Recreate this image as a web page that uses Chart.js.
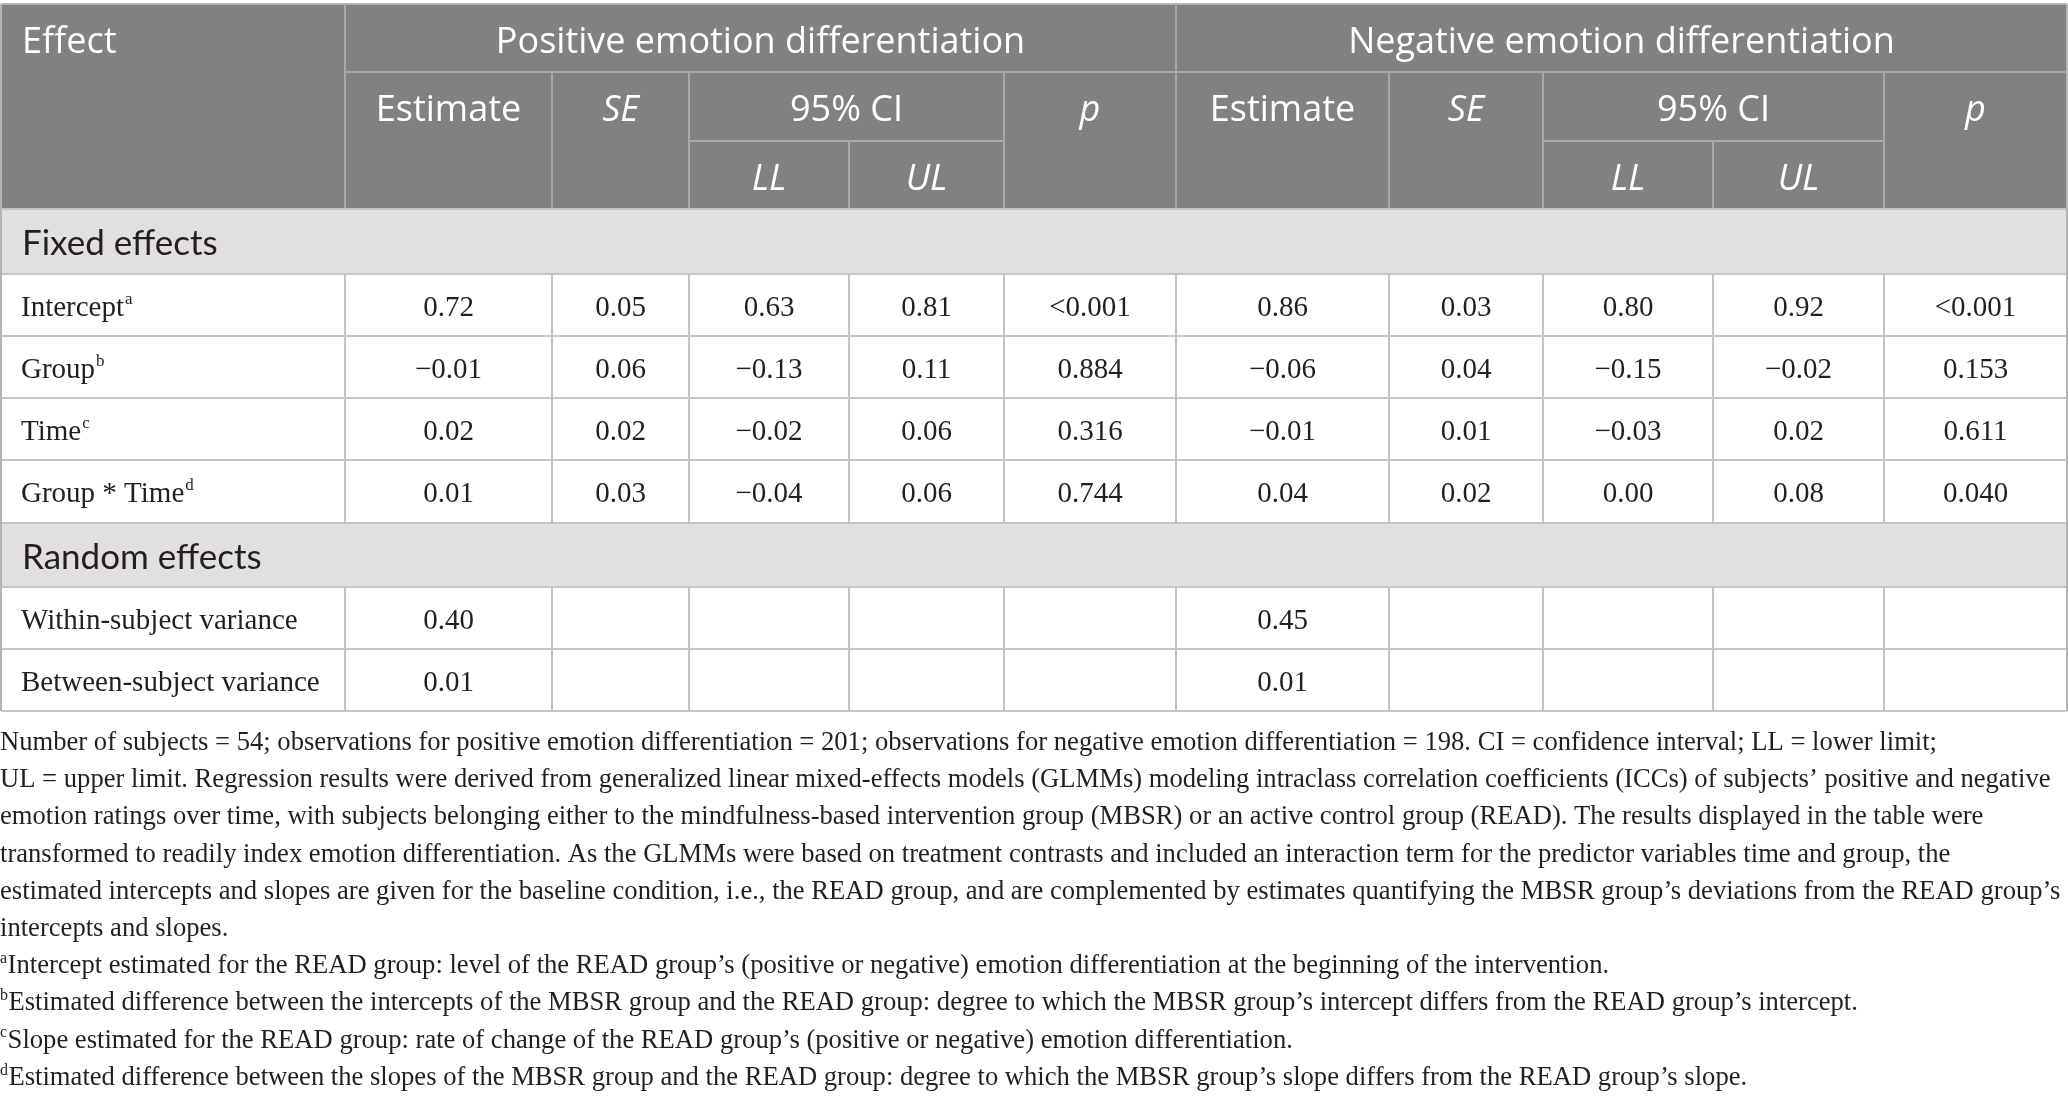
<!DOCTYPE html>
<html>
<head>
<meta charset="utf-8">
<script src="https://cdn.jsdelivr.net/npm/chart.js@4.4.1/dist/chart.umd.min.js"></script>
<style>
  html, body { margin: 0; padding: 0; background: #ffffff; }
  #wrap { width: 2068px; height: 1100px; position: relative; }
  canvas { display: block; }
</style>
</head>
<body>
<div id="wrap"><canvas id="c" width="2068" height="1100" style="width:2068px;height:1100px"></canvas></div>
<script>
// ---------------- DATA ----------------
const groupHeaders = ["Positive emotion differentiation", "Negative emotion differentiation"];
const subHeaders = ["Estimate", "SE", "95% CI", "p"];
const ciHeaders = ["LL", "UL"];
const sectionLabels = ["Fixed effects", "Random effects"];

const fixedEffects = ["Intercept", "Group", "Time", "Group * Time"];
const fixedSup = ["a", "b", "c", "d"];

const posEstimate = ["0.72", "\u22120.01", "0.02", "0.01"];
const posSE       = ["0.05", "0.06", "0.02", "0.03"];
const posLL       = ["0.63", "\u22120.13", "\u22120.02", "\u22120.04"];
const posUL       = ["0.81", "0.11", "0.06", "0.06"];
const posP        = ["<0.001", "0.884", "0.316", "0.744"];

const negEstimate = ["0.86", "\u22120.06", "\u22120.01", "0.04"];
const negSE       = ["0.03", "0.04", "0.01", "0.02"];
const negLL       = ["0.80", "\u22120.15", "\u22120.03", "0.00"];
const negUL       = ["0.92", "\u22120.02", "0.02", "0.08"];
const negP        = ["<0.001", "0.153", "0.611", "0.040"];

const randomEffects = ["Within-subject variance", "Between-subject variance"];
const posVariance = ["0.40", "0.01"];
const negVariance = ["0.45", "0.01"];

const noteLines = [
  ["", "Number of subjects = 54; observations for positive emotion differentiation = 201; observations for negative emotion differentiation = 198. CI = confidence interval; LL = lower limit;"],
  ["", "UL = upper limit. Regression results were derived from generalized linear mixed-effects models (GLMMs) modeling intraclass correlation coefficients (ICCs) of subjects\u2019 positive and negative"],
  ["", "emotion ratings over time, with subjects belonging either to the mindfulness-based intervention group (MBSR) or an active control group (READ). The results displayed in the table were"],
  ["", "transformed to readily index emotion differentiation. As the GLMMs were based on treatment contrasts and included an interaction term for the predictor variables time and group, the"],
  ["", "estimated intercepts and slopes are given for the baseline condition, i.e., the READ group, and are complemented by estimates quantifying the MBSR group\u2019s deviations from the READ group\u2019s"],
  ["", "intercepts and slopes."],
  ["a", "Intercept estimated for the READ group: level of the READ group\u2019s (positive or negative) emotion differentiation at the beginning of the intervention."],
  ["b", "Estimated difference between the intercepts of the MBSR group and the READ group: degree to which the MBSR group\u2019s intercept differs from the READ group\u2019s intercept."],
  ["c", "Slope estimated for the READ group: rate of change of the READ group\u2019s (positive or negative) emotion differentiation."],
  ["d", "Estimated difference between the slopes of the MBSR group and the READ group: degree to which the MBSR group\u2019s slope differs from the READ group\u2019s slope."]
];

// ---------------- LAYOUT (scale units) ----------------
const COLS = [1, 345, 552, 689, 849, 1004, 1176, 1389, 1543, 1713, 1884, 2067];
const ROWS = [4, 72, 141, 209, 274, 336, 398, 460, 523, 587, 649, 711];
const NOTE_TOP = 750, NOTE_STEP = 37.2;

const HEAD_BG = "#808180", SECTION_BG = "#e1dfe0";
const HEAD_LINE = "#a7a8a7", BODY_LINE = "#c4c4c4", INK = "#231f20";
const SANS = "Lato, 'Open Sans', sans-serif";
const HSANS = "'Open Sans', Lato, sans-serif";
const SERIF = "'Liberation Serif', 'DejaVu Serif', serif";

const tablePlugin = {
  id: "tablePlugin",
  afterDraw(chart) {
    const ctx = chart.ctx;
    const X = v => chart.scales.x.getPixelForValue(v);
    const Y = v => chart.scales.y.getPixelForValue(v);
    const rect = (x0, y0, x1, y1, c) => { ctx.fillStyle = c; ctx.fillRect(X(x0), Y(y0), X(x1) - X(x0), Y(y1) - Y(y0)); };
    const hline = (x0, x1, y, c) => { ctx.strokeStyle = c; ctx.lineWidth = 2; ctx.beginPath(); ctx.moveTo(X(x0), Y(y)); ctx.lineTo(X(x1), Y(y)); ctx.stroke(); };
    const vline = (x, y0, y1, c) => { ctx.strokeStyle = c; ctx.lineWidth = 2; ctx.beginPath(); ctx.moveTo(X(x), Y(y0)); ctx.lineTo(X(x), Y(y1)); ctx.stroke(); };
    const text = (s, x, y, font, color, align) => { ctx.font = font; ctx.fillStyle = color; ctx.textAlign = align; ctx.textBaseline = "alphabetic"; ctx.fillText(s, X(x), Y(y)); };
    const mid = (a, b) => (COLS[a] + COLS[b]) / 2;

    ctx.save();
    // backgrounds
    rect(COLS[0], ROWS[0], COLS[11], ROWS[3], HEAD_BG);
    rect(COLS[0], ROWS[3], COLS[11], ROWS[4], SECTION_BG);
    rect(COLS[0], ROWS[8], COLS[11], ROWS[9], SECTION_BG);

    // header lines
    hline(COLS[0], COLS[11], ROWS[0], "#b4b4b4");
    hline(COLS[1], COLS[11], ROWS[1], HEAD_LINE);
    hline(COLS[3], COLS[5], ROWS[2], HEAD_LINE);
    hline(COLS[8], COLS[10], ROWS[2], HEAD_LINE);
    vline(COLS[1], ROWS[0], ROWS[3], HEAD_LINE);
    vline(COLS[6], ROWS[0], ROWS[3], HEAD_LINE);
    [2, 3, 5, 7, 8, 10].forEach(i => vline(COLS[i], ROWS[1], ROWS[3], HEAD_LINE));
    [4, 9].forEach(i => vline(COLS[i], ROWS[2], ROWS[3], HEAD_LINE));

    // body lines
    for (let r = 3; r <= 11; r++) hline(COLS[0], COLS[11], ROWS[r], BODY_LINE);
    const dataBands = [[4, 8], [9, 11]];
    dataBands.forEach(([a, b]) => {
      for (let i = 1; i <= 10; i++) vline(COLS[i], ROWS[a], ROWS[b], BODY_LINE);
    });
    vline(COLS[0], ROWS[0], ROWS[11], "#b4b4b4");
    vline(COLS[11], ROWS[0], ROWS[11], "#b4b4b4");

    // header text
    const hFont = "36px " + HSANS, hItal = "italic 36px " + HSANS;
    text("Effect", 22, ROWS[0] + 49, hFont, "#ffffff", "left");
    text(groupHeaders[0], mid(1, 6), ROWS[0] + 49, hFont, "#ffffff", "center");
    text(groupHeaders[1], mid(6, 11), ROWS[0] + 49, hFont, "#ffffff", "center");
    [0, 5].forEach(o => {
      text(subHeaders[0], mid(1 + o, 2 + o), ROWS[1] + 49, hFont, "#ffffff", "center");
      text(subHeaders[1], mid(2 + o, 3 + o), ROWS[1] + 49, hItal, "#ffffff", "center");
      text(subHeaders[2], mid(3 + o, 5 + o), ROWS[1] + 49, hFont, "#ffffff", "center");
      text(subHeaders[3], mid(5 + o, 6 + o), ROWS[1] + 49, hItal, "#ffffff", "center");
      text(ciHeaders[0], mid(3 + o, 4 + o), ROWS[2] + 49, hItal, "#ffffff", "center");
      text(ciHeaders[1], mid(4 + o, 5 + o), ROWS[2] + 49, hItal, "#ffffff", "center");
    });

    // section labels
    const sFont = "35px " + SANS;
    text(sectionLabels[0], 22, ROWS[3] + 46, sFont, INK, "left");
    text(sectionLabels[1], 22, ROWS[8] + 46, sFont, INK, "left");

    // body
    const bFont = "29px " + SERIF, supFont = "17px " + SERIF;
    const label = (s, sup, r) => {
      text(s, 21, ROWS[r] + 42, bFont, INK, "left");
      if (sup) {
        ctx.font = bFont;
        const w = ctx.measureText(s).width;
        text(sup, 21 + w + 1, ROWS[r] + 30, supFont, INK, "left");
      }
    };
    const cols = [posEstimate, posSE, posLL, posUL, posP, negEstimate, negSE, negLL, negUL, negP];
    fixedEffects.forEach((e, k) => {
      const r = 4 + k;
      label(e, fixedSup[k], r);
      cols.forEach((arr, c) => text(arr[k], mid(c + 1, c + 2), ROWS[r] + 42, bFont, INK, "center"));
    });
    randomEffects.forEach((e, k) => {
      const r = 9 + k;
      label(e, "", r);
      text(posVariance[k], mid(1, 2), ROWS[r] + 42, bFont, INK, "center");
      text(negVariance[k], mid(6, 7), ROWS[r] + 42, bFont, INK, "center");
    });

    // notes
    ctx.font = "26px " + SERIF;
    const ref = ctx.measureText(noteLines[4][1]).width;
    let fs = 26 * 2060 / ref;
    fs = Math.max(22, Math.min(30, fs));
    const nFont = fs.toFixed(2) + "px " + SERIF;
    const nSup = (fs * 0.6).toFixed(2) + "px " + SERIF;
    noteLines.forEach(([sup, s], i) => {
      const y = NOTE_TOP + i * NOTE_STEP;
      let x = 0;
      if (sup) {
        text(sup, 0, y - fs * 0.38, nSup, INK, "left");
        ctx.font = nSup;
        x = ctx.measureText(sup).width + 0.5;
      }
      text(s, x, y, nFont, INK, "left");
    });
    ctx.restore();
  }
};

function build() {
  new Chart(document.getElementById("c"), {
    type: "scatter",
    data: { datasets: [] },
    options: {
      responsive: false,
      animation: false,
      events: [],
      layout: { padding: 0 },
      plugins: { legend: { display: false }, tooltip: { enabled: false }, title: { display: false } },
      scales: {
        x: { type: "linear", min: 0, max: 2068, display: false },
        y: { type: "linear", min: 0, max: 1100, reverse: true, display: false }
      }
    },
    plugins: [tablePlugin]
  });
}
const fontLoads = ["35px Lato", "36px 'Open Sans'", "italic 36px 'Open Sans'", "29px 'Liberation Serif'"].map(f => document.fonts.load(f).catch(() => null));
Promise.all(fontLoads).then(build, build);
</script>
</body>
</html>
